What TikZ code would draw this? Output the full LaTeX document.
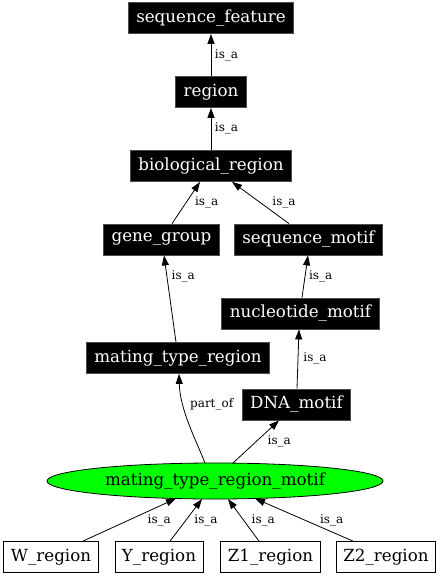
\documentclass[tikz,border=0pt]{standalone}
\usepackage{fontspec}
\setmainfont{DejaVu Serif}
\usetikzlibrary{arrows.meta,shapes.geometric,calc}
\tikzset{
  dark/.style={rectangle, fill=black, draw=black!70, text=white, line width=0.8pt,
    minimum height=31pt, inner xsep=8pt, inner ysep=0pt, font=\fontsize{16.7}{20}\selectfont},
  light/.style={rectangle, fill=white, draw=black, text=black, line width=0.8pt,
    minimum height=31pt, inner xsep=7pt, inner ysep=0pt, font=\fontsize{16.7}{20}\selectfont},
  focus/.style={ellipse, fill=green, draw=black, line width=0.8pt,
    minimum width=336pt, minimum height=36pt, inner sep=0pt, font=\fontsize{16.7}{20}\selectfont},
  arr/.style={-{Triangle[length=10pt,width=7pt]}, line width=0.8pt, black},
  lab/.style={font=\fontsize{12}{14}\selectfont, inner sep=0pt, text=black}
}
\begin{document}
\begin{tikzpicture}[x=1pt,y=-1pt]
\useasboundingbox (0,0) rectangle (440,576);
\node[dark] (sf) at (211,18) {sequence\_feature};
\node[dark] (region) at (211,92) {region};
\node[dark] (bio) at (211,166) {biological\_region};
\node[dark] (gg) at (161.5,239.5) {gene\_group};
\node[dark] (sm) at (308.5,239.5) {sequence\_motif};
\node[dark] (nm) at (300.5,313.5) {nucleotide\_motif};
\node[dark] (mtr) at (178,358) {mating\_type\_region};
\node[dark] (dna) at (296.5,404.5) {DNA\_motif};
\node[focus] (mtrm) at (215,481) {mating\_type\_region\_motif};
\node[light] (W) at (51,557) {W\_region};
\node[light] (Y) at (159,557) {Y\_region};
\node[light] (Z1) at (270.5,557) {Z1\_region};
\node[light] (Z2) at (386,557) {Z2\_region};

\draw[arr] (region.north) -- (sf.south) node[lab] (l1) at (226.5,55) {is\_a};
\draw[arr] (bio.north) -- (region.south) node[lab] (l2) at (226.5,128) {is\_a};
\draw[arr] ($(gg.north)+(10.5,0)$) -- ($(bio.south)+(-11,0)$) node[lab] (l3) at (206.7,202) {is\_a};
\draw[arr] ($(sm.north)+(-19.5,0)$) -- ($(bio.south)+(21,0)$) node[lab] (l4) at (284,202) {is\_a};
\draw[arr] ($(mtr.north)+(-2,0)$) -- ($(gg.south)+(2.5,0)$) node[lab] (l5) at (183.3,276) {is\_a};
\draw[arr] ($(nm.north)+(1.5,0)$) -- ($(sm.south)+(-0.5,0)$) node[lab] (l6) at (320.7,276) {is\_a};
\draw[arr] ($(dna.north)+(0.5,0)$) -- ($(nm.south)+(-1.5,0)$) node[lab] (l7) at (315,358) {is\_a};
\draw[arr] ($(mtrm)+(-10,-18)$) .. controls (196,440) and (180,410) .. ($(mtr.south)+(1,0)$) node[lab] (l8) at (211.7,404) {part\_of};
\draw[arr] ($(mtrm)+(18,-18)$) -- ($(dna.south)+(-17.5,0)$) node[lab] (l9) at (279.3,441) {is\_a};
\draw[arr] ($(W.north)+(32,0)$) -- ($(mtrm)+(-39,17.5)$) node[lab] (l10) at (159.3,520) {is\_a};
\draw[arr] ($(Y.north)+(11,0)$) -- ($(mtrm)+(-13,18)$) node[lab] (l11) at (206,520) {is\_a};
\draw[arr] ($(Z1.north)+(-11.5,0)$) -- ($(mtrm)+(13,18)$) node[lab] (l12) at (263.3,520) {is\_a};
\draw[arr] ($(Z2.north)+(-33,0)$) -- ($(mtrm)+(40,17.5)$) node[lab] (l13) at (331.7,520) {is\_a};
\end{tikzpicture}
\end{document}
